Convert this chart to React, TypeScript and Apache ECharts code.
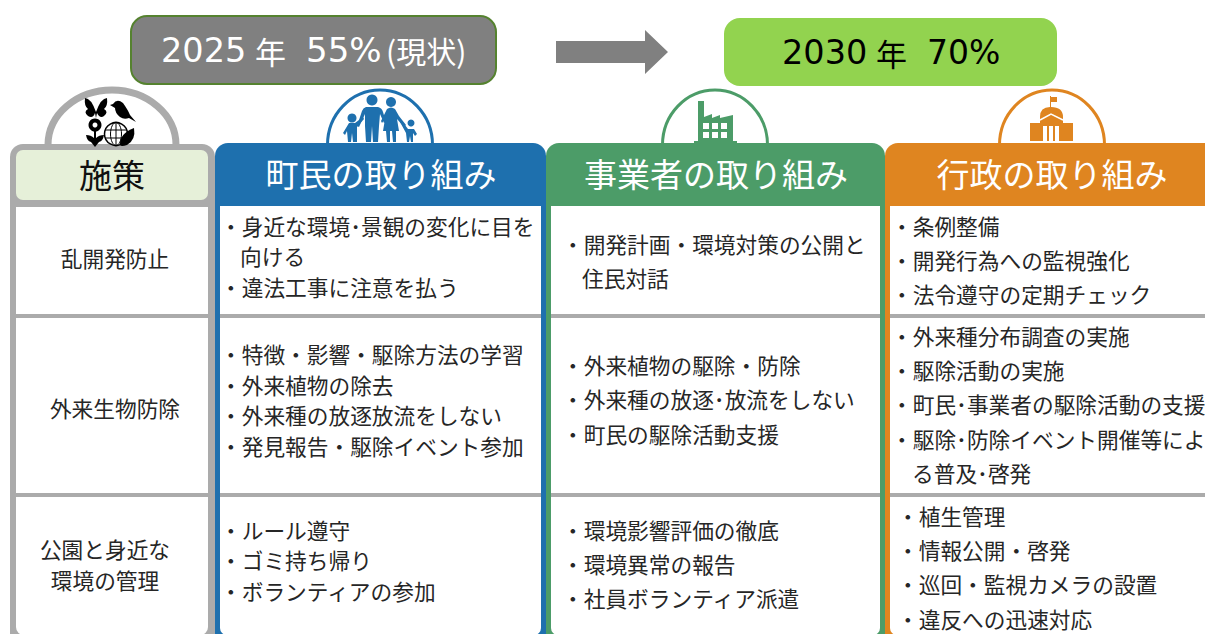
import React, { useEffect, useRef } from "react";
import * as echarts from "echarts";

// ---- texts ----
const startLabel = ["2025", "年", "55%", "(現状)"];
const goalLabel = ["2030", "年", "70%"];
const headers = ["施策", "町民の取り組み", "事業者の取り組み", "行政の取り組み"];
const measures = [["乱開発防止"], ["外来生物防除"], ["公園と身近な", "環境の管理"]];
const citizen = [
  ["・身近な環境･景観の変化に目を", "向ける", "・違法工事に注意を払う"],
  ["・特徴・影響・駆除方法の学習", "・外来植物の除去", "・外来種の放逐放流をしない", "・発見報告・駆除イベント参加"],
  ["・ルール遵守", "・ゴミ持ち帰り", "・ボランティアの参加"],
];
const business = [
  ["・開発計画・環境対策の公開と", "住民対話"],
  ["・外来植物の駆除・防除", "・外来種の放逐･放流をしない", "・町民の駆除活動支援"],
  ["・環境影響評価の徹底", "・環境異常の報告", "・社員ボランティア派遣"],
];
const government = [
  ["・条例整備", "・開発行為への監視強化", "・法令遵守の定期チェック"],
  ["・外来種分布調査の実施", "・駆除活動の実施", "・町民･事業者の駆除活動の支援", "・駆除･防除イベント開催等によ", "る普及･啓発"],
  ["・植生管理", "・情報公開・啓発", "・巡回・監視カメラの設置", "・違反への迅速対応"],
];

// ---- layout ----
const FONT = '"Noto Sans CJK JP"';
const LATIN = '"DejaVu Sans"';
const colors = { gray: "#ABABAB", blue: "#1E70AE", green: "#4C9C68", orange: "#DF8520", ink: "#262626" };
const cellY = {
  citizen: [[225, 255, 286], [353, 384, 414, 445], [529, 559, 590]],
  business: [[243, 277], [364, 398, 433], [529, 563, 597]],
  government: [[225, 259, 293], [335, 369, 403, 438, 472], [515, 549, 583, 618]],
};
const measureY = [[257], [407], [548, 579]];
const dividerY = [316, 495];

// ---- icons ----
const P = {
  man: "M366 107L378 107Q382 108 383 112L386 122L384 123L380 114L379 126L378 142L373 142L372 126L371 142L366 142L365 126L365 114L359 127L357 126L362 111Q363 108 366 107Z",
  woman: "M387 109Q391 106 395 109L399 116L406 125L404 127L397 119L399 131L396 131L396 142L393 142L392 131L390 131L390 142L387 142L386 131L383 131L385 119L382 123L381 121Z",
  kidL: "M349 123L355 123L363 117L364 119L357 127L357 142L353 142L352 133L351 142L348 142L347 131L345 135L343 133Z",
  kidR: "M408 129L414 129L417 134L415 136L413 133L413 142L411 142L410 136L409 142L407 142L406 133L400 122L402 121Z",
  factory: "M698 101L704 101L704 117L712 114L712 118L720 115L720 118L733 115L733 141L737 141L737 144L694 144L694 141L698 141Z",
  dome: "M1050 96L1051 96L1051 97L1057 97L1057 102L1051 102L1051 107Q1063 107 1063 117L1063 123L1073 123L1073 141L1030 141L1030 123L1040 123L1040 117Q1040 107 1050 107Z",
  butterfly: "M96 112Q91 98 85 98Q84 106 88 109Q83 112 88 116Q93 119 95 113L96 118L97 113Q100 119 104 116Q109 112 104 109Q108 106 107 98Q101 98 96 112Z",
  bird: "M110 105L113 104Q117 98 123 103Q128 110 130 115L136 122L129 118Q124 120 120 117Q115 113 115 108Z",
  flower: "M94 128L96 128L96 138Q99 135 104 135Q103 141 99 142L95 147L91 142Q87 141 86 135Q91 135 94 138Z",
  leaf: "M134 128Q136 140 127 145Q121 147 120 145Q119 134 134 128Z",
};
Object.entries(P).forEach(([k, d]) => {
  echarts.graphic.registerShape(k, echarts.graphic.extendPath(d, {}));
});

const txt = (text: string, x: number, y: number, size: number, fill: string, align = "left", family = FONT) => ({
  type: "text",
  z: 20,
  style: { text, x, y, fill, font: `${size}px ${family}`, align, verticalAlign: "middle", textAlign: align, textVerticalAlign: "middle" },
});
const rect = (x: number, y: number, w: number, h: number, fill: string, r: any = 0, z = 5, extra: any = {}) => ({
  type: "rect", z, shape: { x, y, width: w, height: h, r }, style: { fill, ...extra },
});
const dome = (cx: number, rx: number, color: string, lw: number) => ({
  type: "ellipse", z: 1, shape: { cx, cy: 145, rx, ry: 55 }, style: { fill: "#fff", stroke: color, lineWidth: lw },
});
const icon = (type: string, fill: string, z = 15) => ({ type, z, style: { fill } });
const dot = (cx: number, cy: number, r: number, fill: string) => ({ type: "circle", z: 15, shape: { cx, cy, r }, style: { fill } });

function column(x0: number, x1: number, color: string, title: string, bw: number, cx: number) {
  return [
    rect(x0, 143, x1 - x0, 520, color, 13, 3),
    rect(x0 + bw, 206, x1 - x0 - 2 * bw, 429, "#fff", [0, 0, 7, 7], 4),
    ...dividerY.map((y) => rect(x0 + bw, y - 2, x1 - x0 - 2 * bw, 4, colors.gray, 0, 5)),
    txt(title, cx, 173, 33, "#fff", "center"),
  ];
}

function cells(rows: string[][], ys: number[][], xs: number[][]) {
  return rows.flatMap((lines, r) =>
    lines.map((l, i) => txt(l, xs[r][i], ys[r][i], 21.7, colors.ink)),
  );
}

function buildGraphics() {
  const els: any[] = [
    // top banners
    rect(131, 16, 365, 68, "#808080", 16, 5, { stroke: "#55822F", lineWidth: 2 }),
    txt(startLabel[0], 161, 50, 33.5, "#fff", "left", LATIN),
    txt(startLabel[1], 255, 50, 31, "#fff"),
    txt(startLabel[2], 306, 50, 34, "#fff", "left", LATIN),
    txt(startLabel[3], 386, 50, 30, "#fff"),
    rect(724, 18, 333, 68, "#92D34F", 16),
    txt(goalLabel[0], 782, 52, 33.5, "#000", "left", LATIN),
    txt(goalLabel[1], 876, 52, 31, "#000"),
    txt(goalLabel[2], 927, 52, 33, "#000", "left", LATIN),
    { type: "polygon", z: 5, shape: { points: [[556, 41], [645, 41], [645, 30], [668, 52], [645, 74], [645, 63], [556, 63]] }, style: { fill: "#808080" } },

    // domes
    dome(112, 64, colors.gray, 7),
    dome(380, 52.5, colors.blue, 3),
    dome(715, 52.5, colors.green, 3),
    dome(1052, 52.5, colors.orange, 3),

    // measure column
    rect(10, 144, 205, 520, colors.gray, 13, 3),
    rect(16, 150, 192, 50, "#E6F0D9", 7, 4),
    rect(16, 207, 192, 428, "#fff", [0, 0, 8, 8], 4),
    ...dividerY.map((y) => rect(16, y - 2, 192, 4, colors.gray, 0, 5)),
    txt(headers[0], 112, 174, 33, "#111", "center"),

    // action columns
    ...column(215, 546, colors.blue, headers[1], 5, 381),
    ...column(546, 885, colors.green, headers[2], 5, 716),
    ...column(885, 1240, colors.orange, headers[3], 5, 1052),
  ];

  // measure labels
  measures.forEach((lines, r) =>
    lines.forEach((l, i) => {
      els.push(txt(l, r === 2 ? 105 : 115, measureY[r][i], 21.7, colors.ink, "center"));
    }),
  );

  els.push(
    ...cells(citizen, cellY.citizen, [[220, 240, 220], [220, 220, 220, 220], [220, 220, 220]]),
    ...cells(business, cellY.business, [[562, 582], [562, 562, 562], [562, 562, 562]]),
    ...cells(government, cellY.government, [[891, 891, 891], [891, 891, 891, 891, 912], [897, 897, 897, 897]]),
  );

  // family icon
  els.push(
    icon("man", colors.blue), icon("woman", colors.blue), icon("kidL", colors.blue), icon("kidR", colors.blue),
    dot(372, 100, 5.5, colors.blue), dot(391, 102, 5, colors.blue), dot(352, 118, 4.5, colors.blue), dot(411, 123, 3.5, colors.blue),
  );
  // factory icon
  els.push(icon("factory", colors.green));
  [703, 712, 721].forEach((x) => [123, 132].forEach((y) => els.push(rect(x, y, 6, 6, "#fff", 0, 16))));
  // hall icon
  els.push(icon("dome", colors.orange));
  els.push({ type: "polyline", z: 16, shape: { points: [[1040, 120], [1051, 114], [1063, 120]] }, style: { stroke: "#fff", lineWidth: 1.5, fill: "none" } });
  [1043, 1049, 1055].forEach((x) => els.push(rect(x, 126, 4, 15, "#fff", 0, 16)));
  // nature icon
  els.push(
    icon("butterfly", "#000"), icon("bird", "#000"), icon("flower", "#000"),
    dot(95, 125, 6.5, "#000"), dot(95, 125, 2.5, "#fff"),
    { type: "circle", z: 15, shape: { cx: 116, cy: 134, r: 11.5 }, style: { fill: "#fff", stroke: "#000", lineWidth: 1.5 } },
    { type: "ellipse", z: 15, shape: { cx: 116, cy: 134, rx: 5.5, ry: 11.5 }, style: { fill: "none", stroke: "#000", lineWidth: 1 } },
    { type: "line", z: 15, shape: { x1: 105, y1: 130, x2: 127, y2: 130 }, style: { stroke: "#000", lineWidth: 1 } },
    { type: "line", z: 15, shape: { x1: 105, y1: 138, x2: 127, y2: 138 }, style: { stroke: "#000", lineWidth: 1 } },
    { type: "line", z: 15, shape: { x1: 116, y1: 123, x2: 116, y2: 145 }, style: { stroke: "#000", lineWidth: 1 } },
    { ...icon("leaf", "#000"), z: 16 },
  );
  return els;
}

export default function App() {
  const ref = useRef<HTMLDivElement>(null);
  useEffect(() => {
    document.body.style.margin = "0";
    const chart = echarts.init(ref.current!, undefined, { renderer: "svg" });
    chart.setOption({ animation: false, graphic: { elements: buildGraphics() } });
    return () => chart.dispose();
  }, []);
  return <div ref={ref} style={{ width: 1205, height: 634, background: "#fff", overflow: "hidden" }} />;
}
